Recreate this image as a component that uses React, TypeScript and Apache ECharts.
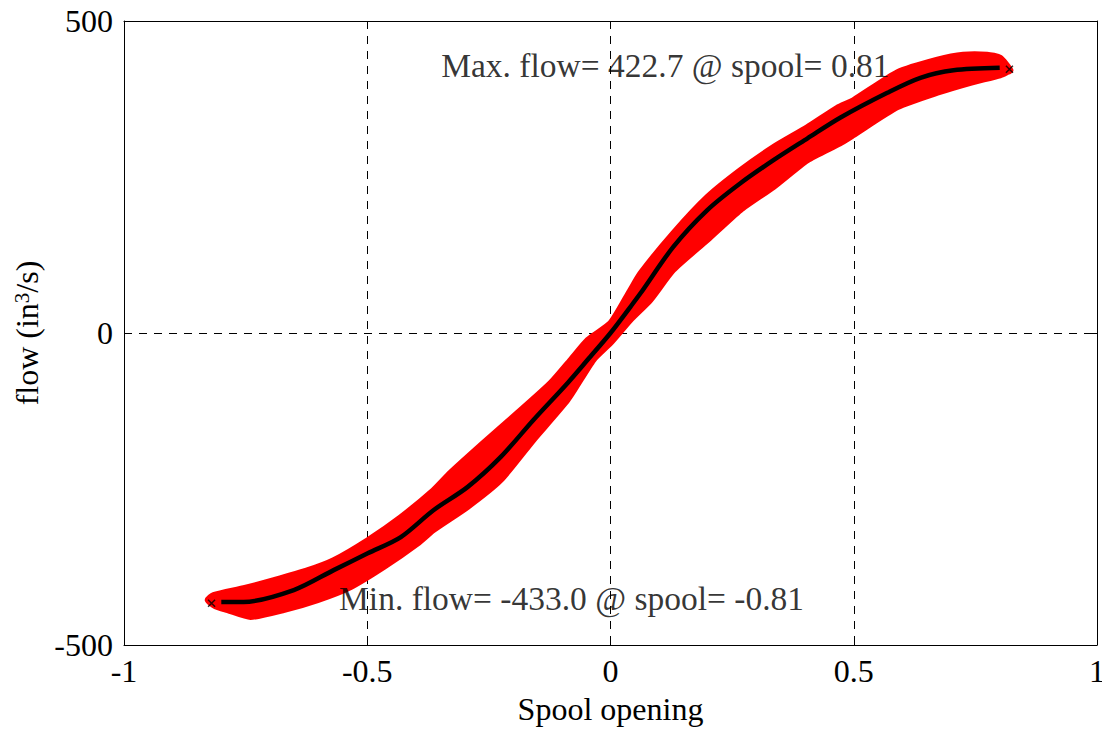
import { useEffect, useRef } from "react";
import * as echarts from "echarts";

// Mean curve (black line): spool opening vs flow
const meanX = [-0.8, -0.754, -0.651, -0.569, -0.499, -0.431, -0.364, -0.294, -0.226, -0.158, -0.088, -0.047, 0, 0.041, 0.062, 0.129, 0.199, 0.267, 0.335, 0.405, 0.472, 0.569, 0.637, 0.705, 0.8];
const meanY = [-431, -431, -412, -380, -353, -327, -284, -247, -199, -139, -80, -43, 0, 42, 64, 138, 197, 240, 277, 312, 345, 385, 409, 421, 425];

// Measured scatter cloud (red): upper and lower envelope
const upperX = [-0.828, -0.816, -0.754, -0.692, -0.622, -0.569, -0.499, -0.431, -0.364, -0.329, -0.261, -0.191, -0.123, -0.082, -0.047, 0, 0.041, 0.062, 0.129, 0.199, 0.267, 0.335, 0.405, 0.466, 0.499, 0.59, 0.672, 0.725, 0.774, 0.801, 0.822];
const upperY = [-428, -420, -409, -396, -380, -364, -332, -295, -252, -224, -176, -128, -80, -43, -11, 16, 69, 96, 160, 218, 261, 298, 330, 361, 373, 418, 438, 446, 446, 441, 421];
const lowerX = [-0.812, -0.787, -0.74, -0.672, -0.602, -0.534, -0.466, -0.396, -0.364, -0.294, -0.226, -0.158, -0.088, -0.035, 0, 0.041, 0.082, 0.129, 0.199, 0.267, 0.335, 0.405, 0.472, 0.499, 0.59, 0.672, 0.74, 0.801, 0.815];
const lowerY = [-438, -444, -455, -444, -428, -407, -375, -337, -316, -279, -236, -171, -107, -43, -16, 21, 53, 101, 149, 197, 234, 277, 304, 317, 362, 385, 401, 413, 418];

// Extremes
const maxPoint = [0.82, 422.7];
const minPoint = [-0.82, -433.0];
const maxLabel = "Max. flow= 422.7 @ spool= 0.81";
const minLabel = "Min. flow= -433.0 @ spool= -0.81";
const maxLabelAnchor = [-0.349, 429];
const minLabelAnchor = [-0.559, -425];

const FONT = "'Liberation Serif', 'Times New Roman', serif";

export default function App() {
  const ref = useRef<HTMLDivElement>(null);
  useEffect(() => {
    if (!ref.current) return;
    const chart = echarts.init(ref.current, undefined, { renderer: "svg", width: 1102, height: 730 });
    const meanData = meanX.map((x, i) => [x, meanY[i]]);
    const baseAxisText = { color: "#000", fontFamily: FONT, fontSize: 32 };
    const dashed = { color: "#000", width: 1, type: [8, 7] as number[] };
    chart.setOption({
      animation: false,
      backgroundColor: "#fff",
      grid: { left: 124, right: 5, top: 21, bottom: 85, containLabel: false, outerBoundsMode: "none" },
      xAxis: [
        {
          type: "value",
          min: -1,
          max: 1,
          interval: 0.5,
          position: "bottom",
          name: "Spool opening",
          nameLocation: "middle",
          nameGap: 48,
          nameTextStyle: baseAxisText,
          axisLine: { show: true, onZero: false, lineStyle: { color: "#000", width: 1 } },
          axisTick: { show: true, inside: true, length: 8, lineStyle: { color: "#000" } },
          axisLabel: { ...baseAxisText, margin: 10 },
          splitLine: { show: true, showMinLine: false, showMaxLine: false, lineStyle: dashed },
        },
        {
          type: "value",
          min: -1,
          max: 1,
          interval: 0.5,
          position: "top",
          axisLine: { show: true, onZero: false, lineStyle: { color: "#000", width: 1 } },
          axisTick: { show: true, inside: true, length: 8, lineStyle: { color: "#000" } },
          axisLabel: { show: false },
          splitLine: { show: false },
        },
      ],
      yAxis: [
        {
          type: "value",
          min: -500,
          max: 500,
          interval: 500,
          position: "left",
          name: "flow (in{sup|3}/s)",
          nameLocation: "middle",
          nameGap: 70,
          nameTextStyle: {
            ...baseAxisText,
            rich: {
              sup: { fontFamily: FONT, fontSize: 21, color: "#000", verticalAlign: "top", lineHeight: 21 },
            },
          },
          axisLine: { show: true, onZero: false, lineStyle: { color: "#000", width: 1 } },
          axisTick: { show: true, inside: true, length: 8, lineStyle: { color: "#000" } },
          axisLabel: { ...baseAxisText, margin: 11 },
          splitLine: { show: true, showMinLine: false, showMaxLine: false, lineStyle: dashed },
        },
        {
          type: "value",
          min: -500,
          max: 500,
          interval: 500,
          position: "right",
          axisLine: { show: true, onZero: false, lineStyle: { color: "#000", width: 1 } },
          axisTick: { show: true, inside: true, length: 8, lineStyle: { color: "#000" } },
          axisLabel: { show: false },
          splitLine: { show: false },
        },
      ],
      series: [
        {
          type: "custom",
          name: "measured",
          clip: false,
          xAxisIndex: 0,
          yAxisIndex: 0,
          data: [[0, 0]],
          renderItem: (_params: any, api: any) => {
            const pts: number[][] = [];
            for (let i = 0; i < upperX.length; i++) pts.push(api.coord([upperX[i], upperY[i]]));
            for (let i = lowerX.length - 1; i >= 0; i--) pts.push(api.coord([lowerX[i], lowerY[i]]));
            return {
              type: "polygon",
              shape: { points: pts, smooth: 0.2 },
              style: { fill: "#ff0000", stroke: "#ff0000", lineWidth: 6, lineJoin: "round" },
            };
          },
          z: 1,
        },
        {
          type: "line",
          name: "mean",
          data: meanData,
          showSymbol: false,
          smooth: 0.3,
          lineStyle: { color: "#000", width: 4.5 },
          z: 2,
        },
        {
          type: "scatter",
          name: "extremes",
          data: [maxPoint, minPoint],
          symbol: "path://M0,0L10,10M10,0L0,10",
          symbolSize: 7,
          itemStyle: { color: "none", borderColor: "#000", borderWidth: 1.5 },
          z: 3,
        },
        {
          type: "scatter",
          name: "annotations",
          data: [
            { value: maxLabelAnchor, label: { formatter: maxLabel } },
            { value: minLabelAnchor, label: { formatter: minLabel } },
          ],
          symbolSize: 1,
          itemStyle: { color: "rgba(0,0,0,0)" },
          label: {
            show: true,
            position: "right",
            distance: 0,
            align: "left",
            verticalAlign: "middle",
            color: "#000",
            fontFamily: FONT,
            fontSize: 33.5,
          },
          z: 4,
        },
      ],
    });
    return () => chart.dispose();
  }, []);
  return (
    <div
      ref={ref}
      style={{ position: "fixed", left: 0, top: 0, width: 1102, height: 730, background: "#fff" }}
    />
  );
}
